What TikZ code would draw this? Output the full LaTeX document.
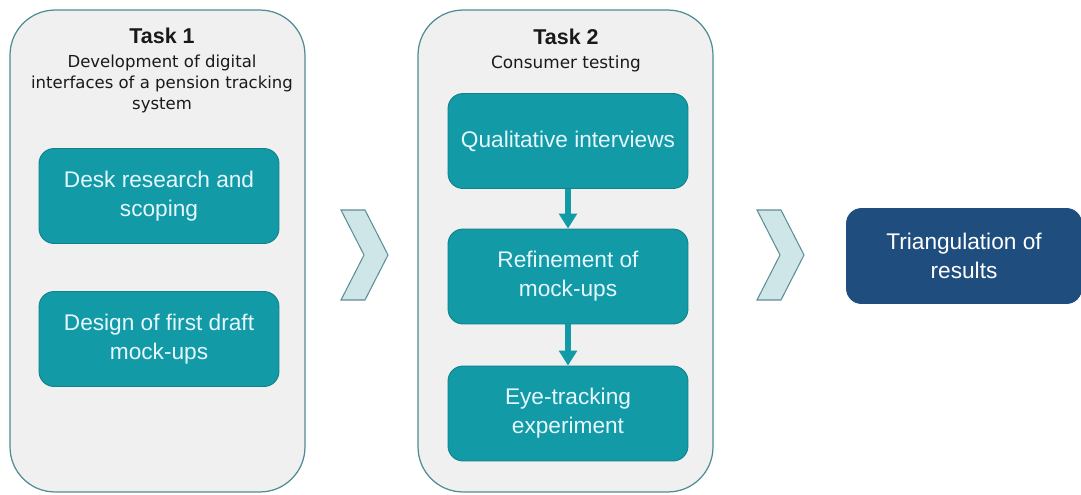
\documentclass[tikz,border=0pt]{standalone}
\usepackage{fontspec}
\setmainfont{Liberation Sans}
\newfontfamily\subfont{DejaVu Sans}
\usetikzlibrary{arrows.meta,positioning}

\definecolor{panelgray}{HTML}{F0F0F0}
\definecolor{panelline}{HTML}{4F8C93}
\definecolor{tealbox}{HTML}{129AA7}
\definecolor{tealline}{HTML}{10808A}
\definecolor{chevfill}{HTML}{CFE6E9}
\definecolor{chevline}{HTML}{5E8E95}
\definecolor{navybox}{HTML}{1F4E7E}

\begin{document}
\begin{tikzpicture}[x=0.02cm,y=-0.02cm]
  \tikzstyle{panel}=[draw=panelline,fill=panelgray,line width=0.7pt,rounded corners=0.9cm,minimum width=5.9cm,minimum height=9.64cm]
  \tikzstyle{stepbox}=[draw=tealline,fill=tealbox,line width=0.5pt,rounded corners=0.3cm,minimum width=4.8cm,minimum height=1.9cm,align=center,text=white!90!cyan,font=\fontsize{12.9}{16.4}\selectfont]
  \tikzstyle{title}=[align=center,text=black!90,inner sep=0pt]
  \tikzstyle{chev}=[draw=chevline,fill=chevfill,line width=0.6pt]
  \tikzstyle{flowarr}=[draw=tealbox,line width=3.4pt,-{Triangle[width=10pt,length=8.5pt]}]

  \useasboundingbox (0,0) rectangle (1081,494);

  % task panels
  \node[panel] (p1) at (157.5,251) {};
  \node[panel] (p2) at (565.5,251) {};

  \node[title,anchor=north] (t1) at (162,28) {\fontsize{12.2}{14}\selectfont\bfseries Task 1\\[1.5pt]
    \subfont\fontsize{9.4}{11.3}\selectfont\mdseries Development of digital\\
    \subfont\fontsize{9.4}{11.3}\selectfont interfaces of a pension tracking\\
    \subfont\fontsize{9.4}{11.3}\selectfont system};
  \node[title,anchor=north] (t2) at (566,29) {\fontsize{12.2}{14}\selectfont\bfseries Task 2\\[1.5pt]
    \subfont\fontsize{9.6}{11.3}\selectfont\mdseries Consumer testing};

  % task 1 steps
  \node[stepbox] (desk) at (159,196) {Desk research and\\scoping};
  \node[stepbox] (draft) at (159,339) {Design of first draft\\mock-ups};

  % task 2 steps
  \node[stepbox] (qual) at (568,141) {Qualitative interviews};
  \node[stepbox] (refine) at (568,276.5) {Refinement of\\mock-ups};
  \node[stepbox] (eye) at (568,413.5) {Eye-tracking\\experiment};

  \draw[flowarr] (qual) -- (refine);
  \draw[flowarr] (refine) -- (eye);

  % result
  \node[stepbox,draw=navybox,fill=navybox,text=white,minimum width=4.7cm] (tri) at (964,256) {Triangulation of\\results};

  % chevrons
  \draw[chev] (341,210) -- (365,210) -- (388,255) -- (365,300) -- (341,300) -- (364,255) -- cycle;
  \draw[chev] (757,210) -- (781,210) -- (804,255) -- (781,300) -- (757,300) -- (780,255) -- cycle;
\end{tikzpicture}
\end{document}
